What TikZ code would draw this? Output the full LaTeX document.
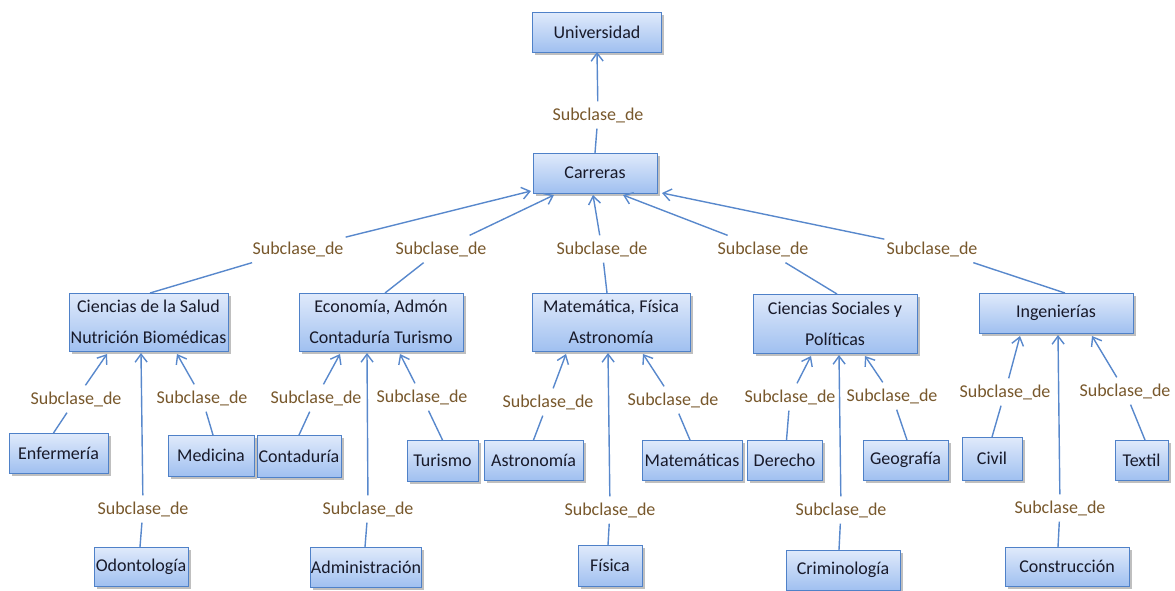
\documentclass[tikz,border=0pt]{standalone}
\usepackage{fontspec}
\setmainfont{Carlito}
\usetikzlibrary{arrows.meta,shadows}
\definecolor{boxline}{RGB}{79,129,200}
\definecolor{boxtop}{RGB}{224,234,251}
\definecolor{boxbot}{RGB}{160,192,240}
\definecolor{nodetext}{RGB}{24,26,42}
\definecolor{reltext}{RGB}{120,88,44}
\definecolor{linkcol}{RGB}{88,136,204}
\begin{document}
\begin{tikzpicture}[x=1pt,y=-1pt,
  box/.style={draw=boxline, line width=1pt, top color=boxtop, bottom color=boxbot,
    drop shadow={shadow xshift=2.5pt, shadow yshift=-2.5pt, fill=black, opacity=0.25},
    text=nodetext, font=\fontsize{18}{31}\selectfont, align=center,
    inner sep=0pt, outer sep=0pt},
  rel/.style={fill=white, text=reltext, font=\fontsize{18}{20}\selectfont,
    inner xsep=2pt, inner ysep=6pt},
  link/.style={draw=linkcol, line width=1.4pt,
    -{Straight Barb[length=8pt,width=12pt,line width=1.4pt]}}
]
\useasboundingbox (0,0) rectangle (1175,590);

% classes
\node[box, minimum width=129pt, minimum height=40pt] (uni) at (597,32) {Universidad};
\node[box, minimum width=124pt, minimum height=40pt] (car) at (595,173) {Carreras};

\node[box, minimum width=159pt, minimum height=58pt] (cs)  at (148.5,322) {Ciencias de la Salud\\Nutrición Biomédicas};
\node[box, minimum width=164pt, minimum height=58pt] (eco) at (381,322) {Economía, Admón\\Contaduría Turismo};
\node[box, minimum width=158pt, minimum height=58pt] (mat) at (611,322) {Matemática, Física\\Astronomía};
\node[box, minimum width=164pt, minimum height=59pt] (soc) at (835,323.5) {Ciencias Sociales y\\Políticas};
\node[box, minimum width=154pt, minimum height=40pt] (ing) at (1056,313) {Ingenierías};

\node[box, minimum width=99pt,  minimum height=40pt] (enf) at (58.5,453) {Enfermería};
\node[box, minimum width=86pt,  minimum height=41pt] (med) at (211,455.5) {Medicina};
\node[box, minimum width=94pt,  minimum height=39pt] (odo) at (141,566.5) {Odontología};
\node[box, minimum width=84pt,  minimum height=42pt] (cont) at (299,456) {Contaduría};
\node[box, minimum width=71pt,  minimum height=41pt] (tur) at (442.5,460.5) {Turismo};
\node[box, minimum width=110pt, minimum height=40pt] (adm) at (366,567) {Administración};
\node[box, minimum width=99pt,  minimum height=40pt] (ast) at (533.5,460) {Astronomía};
\node[box, minimum width=100pt, minimum height=40pt] (mats) at (692,460) {Matemáticas};
\node[box, minimum width=64pt,  minimum height=41pt] (fis) at (610,565.5) {Física};
\node[box, minimum width=75pt,  minimum height=40pt] (der) at (784.5,460) {Derecho};
\node[box, minimum width=85pt,  minimum height=40pt] (geo) at (905.5,460) {Geografía};
\node[box, minimum width=114pt, minimum height=40pt] (cri) at (843,570) {Criminología};
\node[box, minimum width=60pt,  minimum height=43pt] (civ) at (992,458.5) {Civil};
\node[box, minimum width=53pt,  minimum height=40pt] (tex) at (1141.5,460) {Textil};
\node[box, minimum width=124pt, minimum height=39pt] (con) at (1067,566.5) {Construcción};

% relation labels
\node[rel] (r0)  at (598,115) {Subclase\_de};
\node[rel] (r1)  at (298,249) {Subclase\_de};
\node[rel] (r2)  at (441,249) {Subclase\_de};
\node[rel] (r3)  at (602,249) {Subclase\_de};
\node[rel] (r4)  at (763,249) {Subclase\_de};
\node[rel] (r5)  at (932,249) {Subclase\_de};

\node[rel] (renf) at (76,399) {Subclase\_de};
\node[rel] (rmed) at (202,398) {Subclase\_de};
\node[rel] (rodo) at (143,509) {Subclase\_de};
\node[rel] (rcon) at (316,398) {Subclase\_de};
\node[rel] (rtur) at (422,397) {Subclase\_de};
\node[rel] (radm) at (368,509) {Subclase\_de};
\node[rel] (rast) at (548,402) {Subclase\_de};
\node[rel] (rmts) at (673,400) {Subclase\_de};
\node[rel] (rfis) at (610,510) {Subclase\_de};
\node[rel] (rder) at (790,397) {Subclase\_de};
\node[rel] (rgeo) at (892,396) {Subclase\_de};
\node[rel] (rcri) at (841,510) {Subclase\_de};
\node[rel] (rciv) at (1005,392) {Subclase\_de};
\node[rel] (rtex) at (1125,391) {Subclase\_de};
\node[rel] (rcns) at (1060,508) {Subclase\_de};

% subclass links
\draw[link] (car.north) -- (r0) -- (uni.south);

\draw[link] ([xshift=1.5pt]cs.north)  -- (r1) -- ([xshift=-2pt,yshift=2pt]car.south west);
\draw[link] ([xshift=4pt]eco.north)   -- (r2) -- ([xshift=-41pt,yshift=-2pt]car.south);
\draw[link] ([xshift=-4pt]mat.north)  -- (r3) -- ([xshift=-2pt,yshift=-2pt]car.south);
\draw[link] ([xshift=2pt]soc.north)   -- (r4) -- ([xshift=28pt,yshift=-2pt]car.south);
\draw[link] ([xshift=9pt]ing.north)   -- (r5) -- ([xshift=5pt]car.south east);

\draw[link] ([xshift=-5pt]enf.north)  -- (renf) -- ([xshift=-41.5pt,yshift=-3pt]cs.south);
\draw[link] ([xshift=-1pt]odo.north)  -- (rodo) -- ([xshift=-7.5pt,yshift=-2pt]cs.south);
\draw[link] ([xshift=2pt]med.north)   -- (rmed) -- ([xshift=28.5pt,yshift=-3pt]cs.south);

\draw[link] (cont.north)              -- (rcon) -- ([xshift=-41pt,yshift=-3pt]eco.south);
\draw[link] ([xshift=-1pt]adm.north)  -- (radm) -- ([xshift=-14pt,yshift=-2pt]eco.south);
\draw[link] (tur.north)               -- (rtur) -- ([xshift=19pt,yshift=-3pt]eco.south);

\draw[link] (ast.north)               -- (rast) -- ([xshift=-45pt,yshift=-3pt]mat.south);
\draw[link] ([xshift=-2pt]fis.north)  -- (rfis) -- ([xshift=-3pt,yshift=-2pt]mat.south);
\draw[link] ([xshift=-2pt]mats.north) -- (rmts) -- ([xshift=32pt,yshift=-3pt]mat.south);

\draw[link] ([xshift=2pt]der.north)   -- (rder) -- ([xshift=-24pt,yshift=-3pt]soc.south);
\draw[link] ([xshift=-4pt]cri.north)  -- (rcri) -- ([xshift=4pt,yshift=-2pt]soc.south);
\draw[link] ([xshift=1.5pt]geo.north) -- (rgeo) -- ([xshift=30pt,yshift=-3pt]soc.south);

\draw[link] (civ.north)               -- (rciv) -- ([xshift=-36pt,yshift=-3pt]ing.south);
\draw[link] ([xshift=-9pt]con.north)  -- (rcns) -- ([xshift=2pt,yshift=-2pt]ing.south);
\draw[link] ([xshift=3.5pt]tex.north) -- (rtex) -- ([xshift=36pt,yshift=-3pt]ing.south);
\end{tikzpicture}
\end{document}
